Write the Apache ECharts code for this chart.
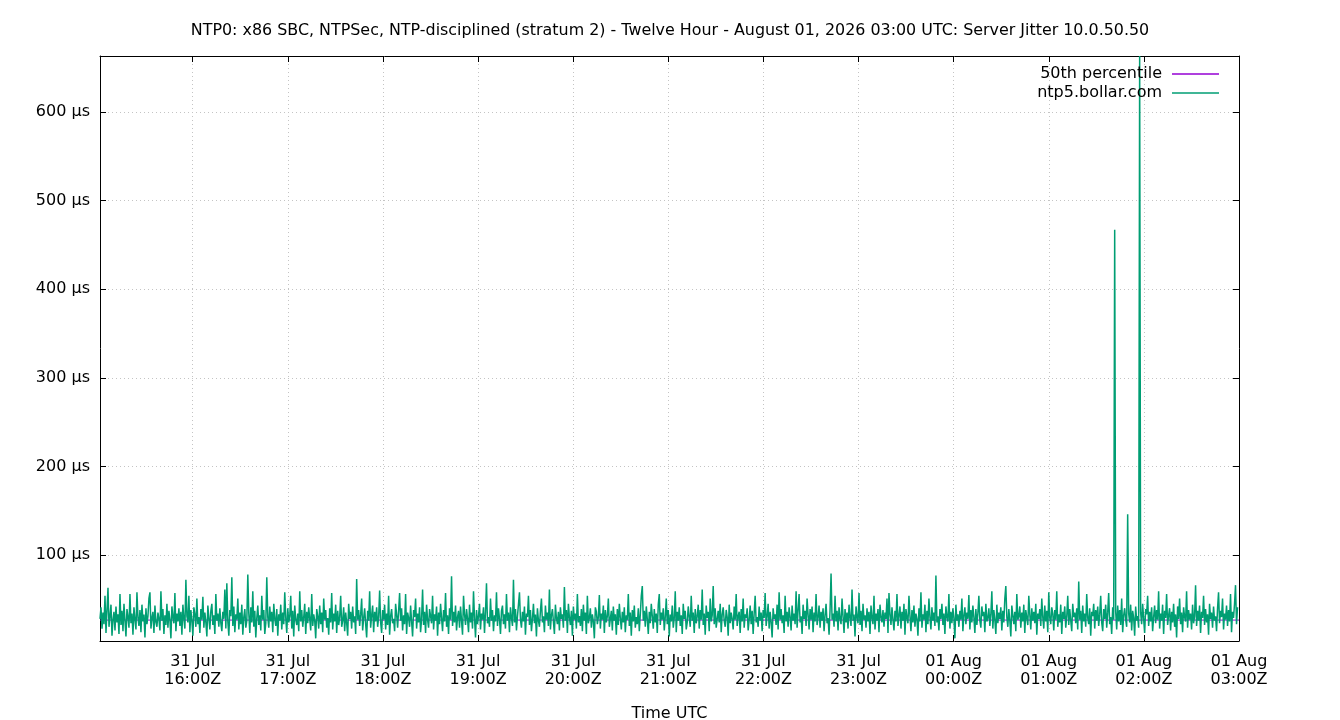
<!DOCTYPE html>
<html>
<head>
<meta charset="utf-8">
<title>Server Jitter</title>
<script src="https://cdn.jsdelivr.net/npm/echarts@6/dist/echarts.min.js"></script>
<style>
  html, body { margin: 0; padding: 0; background: #fff; }
  #chart { width: 1340px; height: 720px; }
</style>
</head>
<body>
<div id="chart"></div>
<script>
var chartDom = document.getElementById('chart');
var myChart = echarts.init(chartDom);
var option;

// samples every 37.8 s from 15:01:30 UTC, jitter in µs
var startTime = Date.UTC(2026, 6, 31, 15, 1, 30);
var endTime = Date.UTC(2026, 7, 1, 3, 0, 0);
var stepSec = 37.8;
var jitter = [
  28, 41, 17, 35, 22, 54, 12, 38, 63, 19, 31, 44, 9, 27, 36, 15, 42, 24, 33, 11,
  56, 21, 37, 14, 45, 26, 8, 39, 30, 18, 56, 23, 34, 10, 41, 27, 16, 58, 29, 20,
  38, 13, 44, 25, 33, 7, 40, 22, 31, 51, 58, 17, 29, 36, 12, 43, 24, 19, 35, 28,
  15, 59, 26, 39, 11, 32, 21, 45, 18, 37, 27, 6, 42, 30, 23, 57, 14, 34, 25, 40,
  20, 36, 10, 44, 28, 17, 72, 31, 24, 54, 13, 38, 26, 9, 41, 33, 19, 51, 22, 30,
  12, 39, 27, 53, 18, 35, 24, 8, 43, 29, 16, 37, 45, 21, 32, 11, 56, 26, 34, 19,
  40, 23, 14, 36, 28, 61, 17, 68, 25, 9, 38, 31, 75, 20, 42, 13, 33, 27, 51, 16,
  35, 22, 44, 10, 30, 39, 18, 26, 78, 34, 12, 41, 24, 59, 19, 37, 7, 29, 43, 21,
  32, 15, 54, 27, 38, 11, 23, 75, 30, 18, 42, 25, 36, 13, 45, 28, 20, 39, 9, 33,
  26, 44, 16, 35, 22, 58, 29, 12, 40, 24, 31, 54, 17, 37, 8, 43, 27, 21, 34, 14,
  59, 25, 38, 19, 30, 45, 11, 36, 23, 41, 28, 15, 56, 20, 33, 26, 6, 39, 31, 17,
  43, 22, 35, 13, 51, 27, 38, 18, 29, 10, 40, 24, 57, 16, 34, 25, 44, 12, 37, 21,
  30, 54, 19, 26, 41, 14, 35, 23, 9, 45, 28, 36, 17, 42, 24, 31, 11, 73, 27, 38,
  20, 33, 51, 15, 29, 40, 22, 7, 37, 26, 59, 18, 32, 43, 13, 36, 25, 41, 19, 30,
  60, 24, 12, 38, 27, 44, 16, 34, 21, 54, 10, 31, 39, 23, 28, 14, 45, 33, 18, 37,
  57, 26, 40, 15, 32, 22, 56, 11, 35, 29, 19, 43, 25, 8, 38, 30, 51, 17, 34, 24,
  41, 13, 28, 61, 21, 36, 12, 44, 27, 18, 39, 31, 23, 54, 16, 33, 26, 42, 9, 35,
  22, 45, 29, 14, 38, 25, 57, 19, 32, 11, 40, 27, 76, 20, 36, 24, 43, 15, 30, 37,
  18, 42, 26, 10, 54, 33, 21, 39, 28, 13, 44, 24, 35, 17, 59, 29, 7, 38, 22, 31,
  45, 16, 34, 27, 41, 12, 36, 68, 23, 30, 19, 51, 26, 38, 14, 32, 25, 58, 20, 40,
  28, 11, 37, 43, 22, 33, 17, 56, 26, 35, 13, 41, 29, 20, 72, 24, 39, 15, 31, 44,
  58, 27, 18, 36, 25, 42, 10, 34, 30, 54, 21, 38, 14, 28, 45, 23, 33, 8, 40, 26,
  19, 37, 51, 24, 31, 13, 43, 27, 35, 20, 61, 16, 32, 39, 25, 11, 44, 29, 22, 36,
  15, 41, 28, 33, 18, 64, 26, 38, 12, 45, 30, 21, 37, 9, 42, 27, 34, 17, 56, 24,
  31, 20, 39, 14, 44, 26, 35, 11, 54, 23, 29, 40, 18, 33, 25, 6, 41, 36, 22, 30,
  55, 17, 34, 27, 43, 12, 38, 24, 31, 51, 19, 28, 37, 15, 42, 26, 33, 10, 39, 21,
  45, 29, 16, 36, 24, 41, 13, 32, 27, 56, 20, 35, 9, 38, 25, 43, 18, 30, 22, 40,
  14, 33, 54, 65, 26, 37, 19, 42, 28, 11, 36, 23, 45, 31, 17, 39, 24, 34, 12, 44,
  56, 21, 35, 27, 40, 15, 30, 51, 22, 38, 8, 33, 25, 43, 18, 29, 59, 13, 36, 26,
  41, 20, 32, 11, 45, 28, 37, 16, 24, 42, 30, 19, 54, 26, 35, 12, 39, 23, 31, 44,
  17, 38, 27, 61, 21, 34, 10, 43, 29, 36, 14, 51, 25, 32, 65, 22, 40, 18, 28, 37,
  24, 45, 13, 33, 41, 26, 19, 38, 30, 9, 44, 23, 35, 28, 16, 42, 27, 56, 20, 31,
  36, 12, 39, 25, 51, 18, 33, 29, 40, 15, 27, 43, 22, 37, 11, 34, 54, 24, 30, 19,
  42, 26, 35, 14, 38, 29, 57, 20, 31, 45, 17, 36, 24, 7, 40, 28, 33, 21, 44, 16,
  58, 27, 39, 23, 32, 12, 54, 25, 36, 19, 41, 30, 15, 43, 26, 34, 22, 59, 18, 38,
  56, 24, 31, 11, 44, 28, 37, 20, 51, 33, 16, 39, 27, 42, 13, 35, 25, 56, 21, 30,
  43, 18, 36, 26, 40, 14, 32, 45, 23, 29, 10, 38, 79, 27, 34, 19, 54, 25, 37, 15,
  41, 28, 22, 51, 31, 12, 39, 24, 35, 17, 44, 29, 20, 61, 26, 33, 8, 42, 30, 23,
  57, 21, 37, 14, 45, 27, 32, 18, 40, 25, 36, 11, 43, 29, 22, 54, 16, 34, 26, 39,
  13, 44, 30, 24, 38, 19, 35, 28, 51, 12, 57, 33, 21, 41, 27, 15, 37, 25, 56, 20,
  32, 42, 17, 36, 26, 45, 10, 39, 29, 23, 54, 31, 14, 38, 24, 43, 19, 34, 28, 9,
  40, 25, 58, 18, 33, 27, 44, 13, 37, 22, 51, 30, 16, 41, 26, 35, 20, 77, 24, 31,
  15, 39, 28, 45, 21, 34, 11, 42, 30, 25, 56, 17, 36, 23, 40, 29, 6, 44, 26, 33,
  19, 37, 27, 51, 14, 32, 41, 22, 35, 28, 55, 16, 38, 24, 43, 30, 12, 39, 21, 34,
  54, 26, 18, 42, 31, 36, 13, 45, 25, 29, 40, 20, 33, 59, 17, 38, 27, 11, 44, 23,
  35, 28, 41, 15, 37, 24, 51, 65, 30, 19, 39, 26, 8, 43, 32, 22, 36, 14, 56, 27,
  31, 42, 18, 35, 25, 44, 12, 38, 29, 21, 54, 33, 16, 40, 26, 36, 23, 45, 10, 34,
  28, 39, 20, 51, 30, 17, 43, 25, 37, 13, 58, 29, 22, 41, 34, 15, 38, 27, 59, 19,
  33, 24, 44, 11, 36, 28, 42, 18, 31, 54, 21, 39, 26, 14, 45, 30, 35, 23, 40, 16,
  70, 27, 37, 12, 43, 25, 34, 19, 56, 29, 22, 40, 9, 36, 31, 45, 17, 38, 26, 42,
  20, 33, 54, 24, 14, 39, 28, 44, 18, 35, 57, 22, 30, 11, 41, 27, 467, 36, 16, 43,
  25, 38, 21, 51, 13, 32, 40, 27, 19, 146, 34, 24, 44, 15, 37, 29, 9, 42, 26, 31,
  18, 663, 35, 22, 45, 28, 12, 39, 33, 54, 20, 36, 25, 41, 14, 30, 43, 23, 38, 27,
  59, 17, 34, 26, 44, 11, 37, 29, 56, 21, 32, 40, 15, 36, 24, 45, 19, 33, 7, 42,
  28, 51, 22, 35, 13, 41, 30, 25, 59, 18, 38, 27, 34, 16, 44, 23, 31, 66, 20, 37,
  26, 43, 12, 36, 29, 54, 21, 39, 24, 33, 10, 45, 28, 35, 18, 42, 26, 31, 14, 40,
  58, 23, 37, 30, 51, 16, 34, 27, 43, 20, 38, 25, 56, 13, 36, 29, 45, 66, 22, 41
];
var median = 26.6;
var yTicks = [100, 200, 300, 400, 500, 600];
var xTicks = [];
for (var h = 16; h <= 27; h++) {
  xTicks.push(Date.UTC(2026, 6, 31, h, 0, 0));
}

var jitterData = jitter.map(function (v, i) {
  return [startTime + i * stepSec * 1000, v];
});
var medianData = [[startTime, median], [endTime, median]];

var months = ['Jan', 'Feb', 'Mar', 'Apr', 'May', 'Jun', 'Jul', 'Aug', 'Sep', 'Oct', 'Nov', 'Dec'];
function pad(n) { return (n < 10 ? '0' : '') + n; }
function timeLabel(val) {
  var d = new Date(val);
  return pad(d.getUTCDate()) + ' ' + months[d.getUTCMonth()] + '\n' +
    pad(d.getUTCHours()) + ':' + pad(d.getUTCMinutes()) + 'Z';
}

var font = 'DejaVu Sans';
var fs = 16;
var gridLine = { show: true, lineStyle: { color: '#c4c4c4', type: [1, 3], width: 1 } };
var border = { show: true, onZero: false, lineStyle: { color: '#000', width: 1 } };
var tick = { show: true, inside: true, length: 6, lineStyle: { color: '#000' } };

option = {
  animation: false,
  backgroundColor: '#fff',
  textStyle: { fontFamily: font },
  title: {
    text: 'NTP0: x86 SBC, NTPSec, NTP-disciplined (stratum 2) - Twelve Hour - August 01, 2026 03:00 UTC: Server Jitter 10.0.50.50',
    left: 'center',
    top: 18,
    textStyle: { fontFamily: font, fontSize: 15.9, fontWeight: 'normal', color: '#000' }
  },
  legend: {
    data: [
      { name: '50th percentile', icon: 'rect' },
      { name: 'ntp5.bollar.com', icon: 'rect' }
    ],
    orient: 'vertical',
    right: 116,
    top: 61,
    align: 'right',
    itemWidth: 47,
    itemHeight: 1.5,
    itemGap: 3,
    textStyle: { fontFamily: font, fontSize: fs, color: '#000', padding: [0, 5, 0, 0] }
  },
  grid: { left: 100, right: 101, top: 56, bottom: 79, containLabel: false, outerBoundsMode: 'none' },
  xAxis: [
    {
      type: 'value',
      min: startTime,
      max: endTime,
      name: 'Time UTC',
      nameLocation: 'middle',
      nameGap: 65,
      nameTextStyle: { fontFamily: font, fontSize: fs, color: '#000' },
      axisLine: border,
      axisTick: Object.assign({ customValues: xTicks }, tick),
      axisLabel: {
        customValues: xTicks,
        formatter: timeLabel,
        fontFamily: font,
        fontSize: fs,
        color: '#000',
        lineHeight: 18,
        margin: 12
      },
      splitLine: gridLine
    },
    {
      type: 'value',
      position: 'top',
      min: startTime,
      max: endTime,
      axisLine: border,
      axisTick: Object.assign({ customValues: xTicks }, tick),
      axisLabel: { show: false, customValues: xTicks },
      splitLine: { show: false }
    }
  ],
  yAxis: [
    {
      type: 'value',
      min: 3,
      max: 663,
      axisLine: border,
      axisTick: Object.assign({ customValues: yTicks }, tick),
      axisLabel: {
        customValues: yTicks,
        formatter: function (v) { return v + ' µs'; },
        fontFamily: font,
        fontSize: fs,
        color: '#000',
        margin: 10
      },
      splitLine: gridLine
    },
    {
      type: 'value',
      position: 'right',
      min: 3,
      max: 663,
      axisLine: border,
      axisTick: Object.assign({ customValues: yTicks }, tick),
      axisLabel: { show: false, customValues: yTicks },
      splitLine: { show: false }
    }
  ],
  series: [
    {
      name: '50th percentile',
      type: 'line',
      symbol: 'none',
      color: '#9400d3',
      lineStyle: { width: 1, color: '#9400d3' },
      data: medianData
    },
    {
      name: 'ntp5.bollar.com',
      type: 'line',
      symbol: 'none',
      color: '#009e73',
      lineStyle: { width: 1.5, color: '#009e73' },
      data: jitterData
    }
  ]
};

option && myChart.setOption(option);
</script>
</body>
</html>
